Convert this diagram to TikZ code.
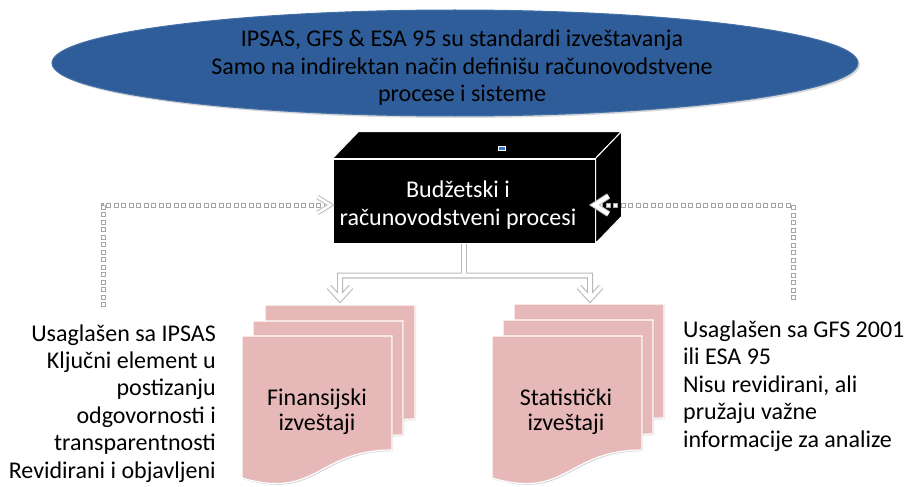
\documentclass[tikz,border=0pt]{standalone}
\usepackage{fontspec}
\setmainfont{Carlito}
\usetikzlibrary{shapes.geometric,shadows,calc}

\definecolor{ellblue}{RGB}{47,93,153}
\definecolor{ellrim}{RGB}{70,112,168}
\definecolor{sheetpink}{RGB}{230,185,184}
\definecolor{edgegray}{RGB}{185,185,185}
\definecolor{dotgray}{RGB}{165,165,165}
\definecolor{markblue}{RGB}{60,120,210}

\tikzset{
  txt/.style={font=\fontsize{24}{27.4}\selectfont, inner sep=0pt},
  doctxt/.style={font=\fontsize{24}{25}\selectfont, inner sep=0pt, align=center},
  sheet/.style={fill=sheetpink, draw=white, line width=1.2pt,
    drop shadow={opacity=0.35, shadow xshift=1.2pt, shadow yshift=-1.2pt}},
  face/.style={fill=black, draw=white, line width=1pt, line join=round},
  pipeunder/.style={draw=edgegray, line width=6pt, line join=miter, miter limit=10},
  pipeover/.style={draw=white, line width=3.8pt, line join=miter, miter limit=10},
  chevunder/.style={draw=edgegray, line width=#1, line join=miter, miter limit=10},
  chevover/.style={draw=white, line width=#1, line join=miter, miter limit=10},
  dotunder/.style={draw=dotgray, line width=5pt, dash pattern=on 5pt off 2.5pt},
  dotover/.style={draw=white, line width=3pt, dash pattern=on 3pt off 4.5pt, dash phase=6.5pt},
}

% one sheet of a document stack, top-left corner at (#1,#2)
\newcommand\docsheet[2]{%
  \draw[sheet] (#1,#2) -- ({#1+150},#2) -- ({#1+150},{#2+114})
    .. controls ({#1+75},{#2+114}) and ({#1+75},{#2+164}) .. (#1,{#2+142}) -- cycle;}

\begin{document}
\begin{tikzpicture}[x=1pt,y=-1pt]
\useasboundingbox (0,0) rectangle (905,487);

% reporting standards
\node[ellipse, fill=ellblue, draw=ellrim, line width=1pt, minimum width=806pt,
      minimum height=106pt, inner sep=0pt,
      drop shadow={opacity=0.3, shadow xshift=2pt, shadow yshift=-2pt}] (std) at (455,63) {};
\node[txt, align=center] (stdtxt) at (462,68)
  {IPSAS, GFS \& ESA 95 su standardi izveštavanja\\
   Samo na indirektan način definišu računovodstvene\\
   procese i sisteme};

% document stacks
\docsheet{265}{305}\docsheet{253}{321}\docsheet{242}{336}
\docsheet{514}{304}\docsheet{503}{320}\docsheet{492}{336}
\node[doctxt] (fin) at (317,412) {Finansijski\\izveštaji};
\node[doctxt] (stat) at (566,412) {Statistički\\izveštaji};
\coordinate (fintop) at (340,299);
\coordinate (stattop) at (590,299);

% process block drawn as a box
\node[face, minimum width=262pt, minimum height=84pt, inner sep=0pt] (box) at (464,201) {};
\draw[face] (box.north west) -- ++(26,-27) -- ($(box.north east)+(26,-27)$)
  -- (box.north east) -- cycle;
\draw[face] (box.north east) -- ++(26,-27) -- ($(box.south east)+(26,-27)$)
  -- (box.south east) -- cycle;
\node[txt, text=white, align=center] (boxtxt) at (458,205)
  {Budžetski i\\računovodstveni procesi};
\node[draw=white, fill=markblue, line width=1pt, minimum width=7pt,
      minimum height=4pt, inner sep=0pt] (mark) at (502,148) {};

% side notes (base anchor sits on the last line)
\node[txt, align=right, anchor=base east] (lt) at (216,478)
  {Usaglašen sa IPSAS\\Ključni element u\\postizanju\\odgovornosti i\\transparentnosti\\Revidirani i objavljeni};
\node[txt, align=left, anchor=base west] (rt) at (683,447)
  {Usaglašen sa GFS 2001\\ili ESA 95\\Nisu revidirani, ali\\pružaju važne\\informacije za analize};

% flow from the process block to the reports, with open chevron heads
\coordinate (jn) at ($(box.south)+(0,32)$);
\foreach \lay in {pipeunder,pipeover}{
  \draw[\lay] (box.south) -- (jn);
  \draw[\lay] (jn) -| (fintop) ++(-11,-12) -- (fintop) -- ++(11,-12);
  \draw[\lay] (jn) -| (stattop) ++(-11,-12) -- (stattop) -- ++(11,-12);
}

% feedback from the reports
\coordinate (ldot) at (103,307);
\coordinate (rdot) at (793,300);
\coordinate (lhead) at ($(box.west)+(-2,4)$);
\coordinate (rhead) at ($(box.east)+(-1,4)$);
\draw[dotunder] (ldot) |- (lhead);
\draw[dotover] (ldot) |- (lhead);
\draw[dotunder] (rdot) |- (rhead);
\draw[dotover] (rdot) |- (rhead);
\draw[chevunder=4.5pt] (lhead) ++(-13,-8) -- (lhead) -- ++(-13,8);
\draw[chevover=2.5pt] (lhead) ++(-13,-8) -- (lhead) -- ++(-13,8);
\draw[chevunder=6pt] (rhead) ++(14,-9) -- (rhead) -- ++(14,9);
\draw[chevover=4pt] (rhead) ++(14,-9) -- (rhead) -- ++(14,9);
\end{tikzpicture}
\end{document}
